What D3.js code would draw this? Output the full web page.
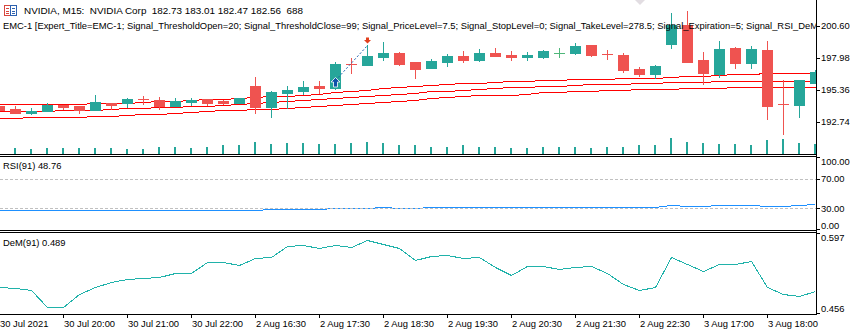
<!DOCTYPE html>
<html><head><meta charset="utf-8">
<script src="https://cdn.jsdelivr.net/npm/d3@7"></script>
<style>
html,body{margin:0;padding:0;background:#fff;overflow:hidden}
svg{display:block}
text{font-family:"Liberation Sans",Arial,sans-serif;fill:#000;white-space:pre}
</style></head><body>
<svg id="c" width="862" height="334"></svg>
<script>
// ---------------- DATA ----------------
const times = ["30 Jul 19:00","30 Jul 19:15","30 Jul 19:30","30 Jul 19:45","30 Jul 20:00","30 Jul 20:15","30 Jul 20:30","30 Jul 20:45","30 Jul 21:00","30 Jul 21:15","30 Jul 21:30","30 Jul 21:45","30 Jul 22:00","30 Jul 22:15","30 Jul 22:30","30 Jul 22:45",
"2 Aug 16:30","2 Aug 16:45","2 Aug 17:00","2 Aug 17:15","2 Aug 17:30","2 Aug 17:45","2 Aug 18:00","2 Aug 18:15","2 Aug 18:30","2 Aug 18:45","2 Aug 19:00","2 Aug 19:15","2 Aug 19:30","2 Aug 19:45","2 Aug 20:00","2 Aug 20:15","2 Aug 20:30","2 Aug 20:45","2 Aug 21:00","2 Aug 21:15","2 Aug 21:30","2 Aug 21:45","2 Aug 22:00","2 Aug 22:15","2 Aug 22:30","2 Aug 22:45",
"3 Aug 16:30","3 Aug 16:45","3 Aug 17:00","3 Aug 17:15","3 Aug 17:30","3 Aug 17:45","3 Aug 18:00","3 Aug 18:15","3 Aug 18:30","3 Aug 18:45"];

const open  = [194.05,193.81,193.48,193.64,194.16,194.05,193.72,194.27,194.30,194.60,194.54,194.05,194.40,194.60,194.46,194.32,
195.69,193.99,195.14,195.30,195.71,195.55,197.49,197.41,198.09,198.41,197.65,197.16,197.65,198.14,197.84,198.39,198.23,198.09,198.06,198.41,198.41,199.04,198.28,198.23,197.08,196.67,
199.13,200.68,197.82,196.67,198.82,197.57,198.64,194.19,194.16,195.96];
const high  = [194.05,194.05,193.89,194.27,194.16,194.05,194.95,194.27,194.71,194.87,194.81,194.71,194.71,194.60,194.57,194.73,
196.45,195.28,195.71,196.10,196.10,197.63,197.96,199.04,199.31,198.47,197.65,197.90,198.31,198.55,198.72,198.80,198.55,198.47,198.64,198.80,199.21,199.04,198.64,198.36,197.24,197.38,
201.64,201.85,198.47,199.37,198.88,198.96,199.37,196.15,196.15,197.00];
const low   = [193.72,193.45,193.40,193.64,193.81,193.50,193.72,193.78,193.99,194.24,193.83,194.05,194.16,194.13,194.21,194.32,
193.50,193.17,193.86,195.06,195.09,195.42,196.73,197.41,197.82,197.41,196.37,197.14,197.35,197.68,197.76,198.17,197.84,197.84,198.00,198.06,198.31,198.14,197.90,196.83,196.53,196.32,
198.82,197.65,195.88,196.42,197.16,197.16,193.01,191.76,193.17,195.96];
const close = [193.72,193.50,193.62,194.16,193.97,193.70,194.38,194.11,194.62,194.59,194.05,194.46,194.54,194.32,194.30,194.68,
193.99,195.17,195.36,195.61,195.55,197.49,197.48,198.14,198.41,197.49,197.10,197.73,198.14,197.84,198.39,198.17,198.06,198.23,198.55,198.42,198.96,198.23,198.27,197.00,196.67,197.33,
200.71,197.65,196.75,198.72,197.57,198.74,194.07,194.18,196.15,196.86];
const volume = [600,600,500,600,600,600,600,600,500,500,700,700,600,700,800,800,
1100,900,1000,1000,900,900,1000,1100,1000,800,800,700,700,800,700,700,600,600,700,700,700,600,700,700,800,800,
1500,1100,1000,900,900,800,1300,1400,1000,900];

const maUpper = [194.21,194.21,194.21,194.21,194.21,194.21,194.32,194.32,194.32,194.40,194.46,194.48,194.54,194.60,194.65,194.71,
194.76,194.84,194.89,194.95,195.06,195.17,195.25,195.39,195.50,195.58,195.66,195.75,195.83,195.93,195.93,196.02,196.07,196.07,196.15,196.15,196.24,196.24,196.26,196.34,196.34,196.34,
196.42,196.51,196.51,196.56,196.65,196.65,196.73,196.73,196.73,196.73];
const maMiddle = [193.62,193.62,193.62,193.62,193.72,193.72,193.72,193.81,193.89,193.89,193.94,193.99,194.03,194.08,194.13,194.19,
194.27,194.35,194.44,194.52,194.60,194.71,194.79,194.89,194.98,195.06,195.15,195.25,195.28,195.34,195.42,195.50,195.58,195.63,195.69,195.69,195.77,195.83,195.83,195.83,195.91,195.91,
195.99,195.99,195.99,196.07,196.12,196.12,196.12,196.12,196.12,196.12];
const maLower = [193.04,193.04,193.13,193.13,193.13,193.13,193.23,193.23,193.29,193.37,193.37,193.45,193.53,193.62,193.70,193.70,
193.78,193.81,193.89,193.94,194.05,194.13,194.21,194.30,194.38,194.47,194.55,194.68,194.76,194.87,194.93,194.98,194.98,195.03,195.20,195.20,195.25,195.30,195.34,195.34,195.42,195.42,
195.42,195.50,195.50,195.50,195.58,195.58,195.58,195.58,195.58,195.58];

const rsi = [27.3,27.3,27.3,27.3,27.3,27.3,27.3,27.3,27.3,27.3,27.3,27.3,27.3,27.3,27.3,27.3,
27.3,28.6,28.6,28.6,28.6,30.0,30.0,30.0,31.4,30.0,30.0,31.4,31.4,31.4,31.4,31.4,31.4,31.4,31.4,31.4,31.4,31.4,31.4,31.4,31.4,31.4,
34.1,32.7,32.7,34.1,34.1,34.1,32.7,32.7,34.1,35.8];
const rsiLevels = [70, 30];
const rsiTicks = [100, 70, 30, 0];

const dem = [0.504,0.501,0.498,0.468,0.468,0.492,0.504,0.513,0.518,0.519,0.522,0.529,0.529,0.547,0.547,0.542,
0.554,0.557,0.575,0.578,0.572,0.577,0.574,0.586,0.579,0.572,0.552,0.558,0.560,0.554,0.556,0.538,0.525,0.541,0.541,0.535,0.538,0.541,0.529,0.508,0.498,0.503,
0.556,0.544,0.531,0.545,0.545,0.549,0.503,0.491,0.487,0.497];
const demTicks = [0.597, 0.456];

const priceTicks = [200.60, 197.98, 195.36, 192.74];
const timeTicks = ["30 Jul 19:00","30 Jul 20:00","30 Jul 21:00","30 Jul 22:00","2 Aug 16:30","2 Aug 17:30","2 Aug 18:30","2 Aug 19:30","2 Aug 20:30","2 Aug 21:30","2 Aug 22:30","3 Aug 17:00","3 Aug 18:00"];
const timeTickLabels = ["30 Jul 2021","30 Jul 20:00","30 Jul 21:00","30 Jul 22:00","2 Aug 16:30","2 Aug 17:30","2 Aug 18:30","2 Aug 19:30","2 Aug 20:30","2 Aug 21:30","2 Aug 22:30","3 Aug 17:00","3 Aug 18:00"];

const tradeTimes = ["2 Aug 17:45", "2 Aug 18:15"];
const tradePrices = [196.18, 199.04];

const titleText = "NVIDIA, M15:  NVIDIA Corp  182.73 183.01 182.47 182.56  688";
const eaText = "EMC-1 [Expert_Title=EMC-1; Signal_ThresholdOpen=20; Signal_ThresholdClose=99; Signal_PriceLevel=7.5; Signal_StopLevel=0; Signal_TakeLevel=278.5; Signal_Expiration=5; Signal_RSI_DeM";
const rsiTitle = "RSI(91) 48.76";
const demTitle = "DeM(91) 0.489";

// ---------------- LAYOUT ----------------
const AX = 816;
const mainTop = 0, mainBot = 154;
const rsiTop = 156, rsiBot = 230;
const demTop = 232, demBot = 314;
const FS = 9.4;

const bull = "#26a69a", bear = "#ef5350", dojiUp = "#4fb77a";

const svg = d3.select("#c");
const defs = svg.append("defs");
function clip(id, y0, y1){
  defs.append("clipPath").attr("id", id).append("rect")
    .attr("x", 0).attr("y", y0).attr("width", AX).attr("height", y1 - y0);
}
clip("cMain", mainTop, mainBot);
clip("cRsi", rsiTop + 1, rsiBot);
clip("cDem", demTop + 1, demBot);

const x = d3.scaleBand().domain(times).range([-9, -9 + 16 * times.length]).padding(0);
const cx = t => x(t) + 8;

const yP = d3.scaleLinear().domain([192.74, 200.60]).range([122, 26]);
const yV = d3.scaleLinear().domain([0, 1500]).range([154, 138]);
const yR = d3.scaleLinear().domain([0, 100]).range([230.5, 156.5]);
const yD = d3.scaleLinear().domain([0.456, 0.597]).range([314, 234]);

const bars = times.map((t, i) => ({t, o: open[i], h: high[i], l: low[i], c: close[i], v: volume[i]}));

// ---------------- MAIN PANEL ----------------
const gm = svg.append("g").attr("clip-path", "url(#cMain)");

gm.append("g").selectAll("rect").data(bars).join("rect")
  .attr("x", d => cx(d.t) - 1).attr("width", 2)
  .attr("y", d => Math.round(yV(d.v))).attr("height", d => 154 - Math.round(yV(d.v)))
  .attr("fill", bull).attr("shape-rendering", "crispEdges");

[maUpper, maMiddle, maLower].forEach(arr => {
  const line = d3.line().x((d, i) => cx(times[i]) + 0.5).y(d => Math.round(yP(d)) + 0.5);
  gm.append("path").attr("d", line(arr)).attr("fill", "none")
    .attr("stroke", "#ff0000").attr("stroke-width", 1).attr("shape-rendering", "crispEdges");
});

const gc = gm.append("g").attr("shape-rendering", "crispEdges");
bars.forEach(b => {
  const c = cx(b.t);
  const doji = Math.abs(b.c - b.o) < 0.015;
  const up = b.c > b.o;
  const col = doji ? (up ? dojiUp : bear) : (up ? bull : bear);
  const yh = Math.round(yP(b.h)), yl = Math.round(yP(b.l));
  gc.append("rect").attr("x", c).attr("y", yh).attr("width", 1).attr("height", yl - yh + 1).attr("fill", col);
  if (doji) {
    const yo = Math.round(yP(b.o));
    gc.append("rect").attr("x", c - 5).attr("y", yo).attr("width", 11).attr("height", 1).attr("fill", col);
  } else {
    const yt = Math.round(yP(Math.max(b.o, b.c))), yb = Math.round(yP(Math.min(b.o, b.c)));
    gc.append("rect").attr("x", c - 5).attr("y", yt).attr("width", 11).attr("height", Math.max(1, yb - yt + 1)).attr("fill", col);
  }
});

// trade
const ex0 = cx(tradeTimes[0]) + 0.5, ey0 = Math.round(yP(tradePrices[0])) + 0.5;
const ex1 = cx(tradeTimes[1]) + 0.5, ey1 = Math.round(yP(tradePrices[1])) + 0.5;
gm.append("line").attr("x1", ex0).attr("y1", ey0).attr("x2", ex1).attr("y2", ey1)
  .attr("stroke", "#1c5fb0").attr("stroke-width", 1).attr("stroke-dasharray", "2,2");
gm.append("path")
  .attr("d", `M${ex0},${ey0-3} L${ex0+4.5},${ey0+1.5} L${ex0+2},${ey0+1.5} L${ex0+2},${ey0+6.5} L${ex0-2},${ey0+6.5} L${ex0-2},${ey0+1.5} L${ex0-4.5},${ey0+1.5} Z`)
  .attr("fill", "#0f4fa8").attr("stroke", "#fff").attr("stroke-width", 0.8);
const ty = ey1 - 2;
gm.append("path")
  .attr("d", `M${ex1},${ty} L${ex1-3.5},${ty-3.5} L${ex1-1.5},${ty-3.5} L${ex1-1.5},${ty-6} L${ex1+1.5},${ty-6} L${ex1+1.5},${ty-3.5} L${ex1+3.5},${ty-3.5} Z`)
  .attr("fill", "#e2401e");

const sx = cx(times[40]) + 1;
gm.append("path").attr("d", `M${sx-5},0 L${sx+5},0 L${sx},5 Z`).attr("fill", "#e2dde2");

// header
const ic = svg.append("g").attr("shape-rendering", "crispEdges");
ic.append("rect").attr("x", 4.5).attr("y", 5.5).attr("width", 12).attr("height", 10).attr("fill", "#fff").attr("stroke", "#d9453d");
ic.append("rect").attr("x", 10).attr("y", 5.5).attr("width", 6.5).attr("height", 10).attr("fill", "#fff").attr("stroke", "#2e62b0");
[8, 10.5, 13].forEach(yy => {
  ic.append("line").attr("x1", 6).attr("x2", 9).attr("y1", yy + 0.5).attr("y2", yy + 0.5).attr("stroke", "#d9453d");
  ic.append("line").attr("x1", 11.5).attr("x2", 15).attr("y1", yy + 0.5).attr("y2", yy + 0.5).attr("stroke", "#2e62b0");
});
svg.append("text").attr("x", 24).attr("y", 11).attr("dy", "0.35em").attr("font-size", 9.9).text(titleText);
gm.append("text").attr("x", 3).attr("y", 26).attr("dy", "0.35em").attr("font-size", FS).text(eaText);

// ---------------- RSI PANEL ----------------
const gr = svg.append("g").attr("clip-path", "url(#cRsi)");
gr.append("path").datum(rsi)
  .attr("d", d3.line().x((d, i) => cx(times[i]) + 0.5).y(d => Math.round(yR(d)) + 0.5))
  .attr("fill", "none").attr("stroke", "#1e90ff").attr("stroke-width", 1).attr("shape-rendering", "crispEdges");
gr.selectAll("line.lvl").data(rsiLevels).join("line").attr("class", "lvl")
  .attr("x1", 0).attr("x2", AX).attr("y1", d => Math.round(yR(d)) + 0.5).attr("y2", d => Math.round(yR(d)) + 0.5)
  .attr("stroke", "#c0c0c0").attr("stroke-dasharray", "3,2").attr("shape-rendering", "crispEdges");
svg.append("text").attr("x", 3).attr("y", 166).attr("dy", "0.35em").attr("font-size", FS).text(rsiTitle);

// ---------------- DEM PANEL ----------------
const gd = svg.append("g").attr("clip-path", "url(#cDem)");
gd.append("path").datum(dem)
  .attr("d", d3.line().x((d, i) => cx(times[i]) + 0.5).y(d => Math.round(yD(d)) + 0.5))
  .attr("fill", "none").attr("stroke", "#20b2aa").attr("stroke-width", 1).attr("shape-rendering", "crispEdges");
svg.append("text").attr("x", 3).attr("y", 243).attr("dy", "0.35em").attr("font-size", FS).text(demTitle);

// ---------------- FRAMES ----------------
const fr = svg.append("g").attr("stroke", "#000").attr("shape-rendering", "crispEdges");
[mainBot, rsiTop, rsiBot, demTop, demBot].forEach(yy => {
  fr.append("line").attr("x1", 0).attr("x2", AX + 1).attr("y1", yy + 0.5).attr("y2", yy + 0.5);
});
fr.append("line").attr("x1", AX + 0.5).attr("x2", AX + 0.5).attr("y1", 0).attr("y2", demBot + 1);

// ---------------- AXES ----------------
const ax = svg.append("g");
function rightTick(yy, label, ly) {
  ax.append("line").attr("x1", AX).attr("x2", AX + 4).attr("y1", Math.round(yy) + 0.5).attr("y2", Math.round(yy) + 0.5)
    .attr("stroke", "#000").attr("shape-rendering", "crispEdges");
  ax.append("text").attr("x", 821).attr("y", ly).attr("dy", "0.35em").attr("font-size", FS).text(label);
}
priceTicks.forEach(p => rightTick(yP(p), p.toFixed(2), yP(p)));
rsiTicks.forEach(v => {
  const yy = v === 100 ? rsiTop + 1 : v === 0 ? rsiBot - 1 : yR(v);
  const ly = v === 100 ? yR(v) + 5 : v === 0 ? yR(v) - 4.5 : yR(v);
  rightTick(yy, v.toFixed(2), ly);
});
demTicks.forEach((v, i) => {
  const yy = i === 0 ? demTop + 1 : demBot - 1;
  const ly = i === 0 ? yD(v) + 3.5 : yD(v) - 5;
  rightTick(yy, v.toFixed(3), ly);
});

timeTicks.forEach((t, i) => {
  const c = cx(t);
  ax.append("line").attr("x1", c + 0.5).attr("x2", c + 0.5).attr("y1", demBot).attr("y2", demBot + 4)
    .attr("stroke", "#000").attr("shape-rendering", "crispEdges");
  ax.append("text").attr("x", i === 0 ? Math.max(0, c + 1) : c + 1).attr("y", 323.5).attr("dy", "0.35em")
    .attr("font-size", FS).text(timeTickLabels[i]);
});
</script>
</body></html>
